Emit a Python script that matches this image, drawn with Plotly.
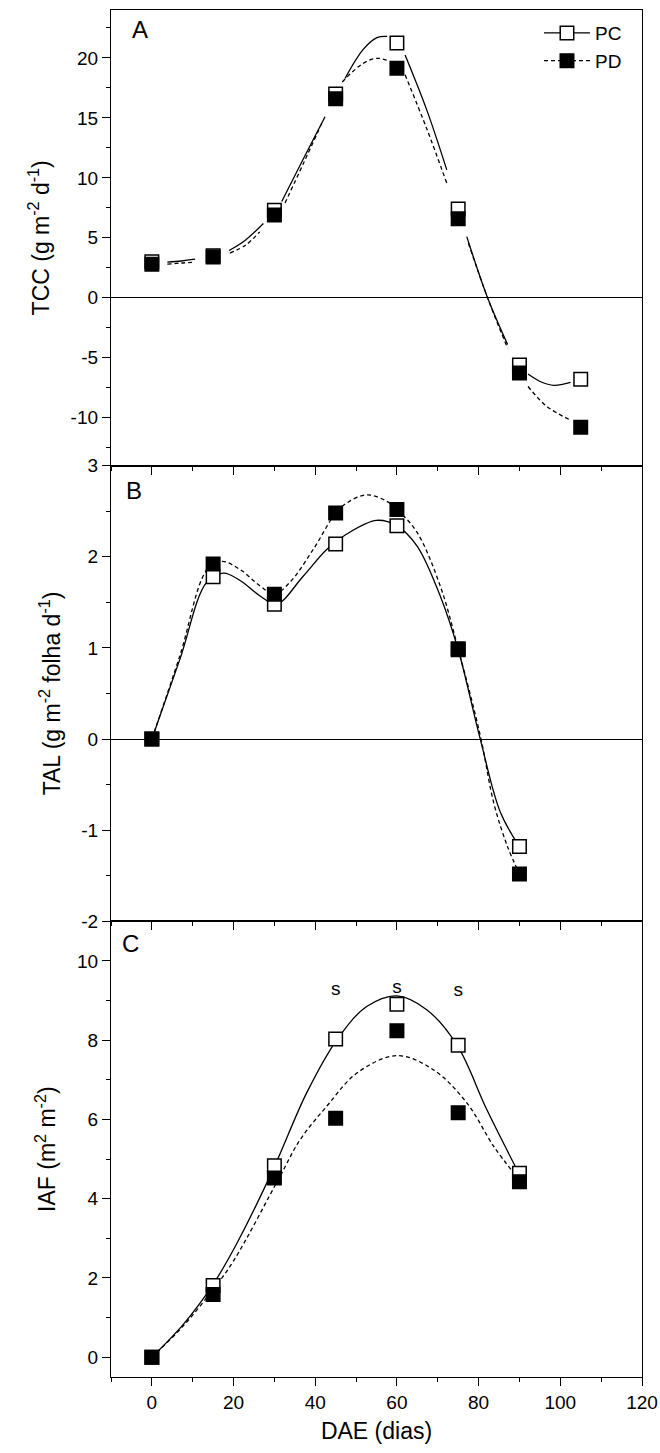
import plotly.graph_objects as go
from plotly.subplots import make_subplots

# ---------------- data ----------------
dae_a = [0, 15, 30, 45, 60, 75, 90, 105]
tcc_pc = [3.0, 3.5, 7.3, 17.0, 21.25, 7.4, -5.6, -6.8]
tcc_pd = [2.8, 3.4, 6.9, 16.6, 19.15, 6.6, -6.27, -10.8]

dae_b = [0, 15, 30, 45, 60, 75, 90]
tal_pc = [0.0, 1.78, 1.48, 2.14, 2.34, 0.98, -1.18]
tal_pd = [0.0, 1.92, 1.59, 2.48, 2.52, 0.99, -1.48]

dae_c = [0, 15, 30, 45, 60, 75, 90]
iaf_pc = [0.0, 1.81, 4.83, 8.03, 8.91, 7.87, 4.64]
iaf_pd = [0.0, 1.58, 4.52, 6.03, 8.24, 6.17, 4.43]

# fitted curves (None = gap near symbols)
tcc_pc_cx = [3.8, 7.2, 10.6, None, 18.9, 22.8, 27.3, None, 31.8, 37.1, 42.4, None,
             47.3, 51.7, 55.1, 57.6, None, 62.0, 67.3, 72.2, None, 77.1, 82.2, 87.1, None,
             92.1, 95.2, 98.4, 102.5]
tcc_pc_cy = [2.97, 3.07, 3.22, None, 3.94, 4.78, 6.2, None, 8.03, 11.6, 15.1, None,
             18.3, 20.7, 21.7, 21.8, None, 20.25, 15.67, 10.67, None, 5.1, 0.0, -3.9, None,
             -6.36, -7.0, -7.3, -7.06]
tcc_pd_cx = [3.8, 7.2, 10.6, None, 19.1, 23.0, 26.4, None, 32.6, 37.1, 41.6, None,
             46.6, 51.7, 55.1, 57.6, None, 62.0, 67.3, 72.2, None, 77.5, 82.3, 87.1, None,
             92.1, 96.7, 102.5]
tcc_pd_cy = [2.8, 2.9, 2.97, None, 3.72, 4.4, 5.5, None, 7.9, 11.2, 14.55, None,
             18.0, 19.55, 19.97, 19.8, None, 18.6, 14.1, 9.56, None, 4.55, -0.1, -4.2, None,
             -7.4, -9.06, -10.2]

tal_pc_cx = [0, 6.9, 13.4, 17.5, 21.6, 26.5, 30.5, 37.1, 42.8, 47.7, 55.0, 60, 64.9, 70.6, 75, 80.4, 85.3, 90]
tal_pc_cy = [0, 0.88, 1.72, 1.82, 1.74, 1.57, 1.48, 1.79, 2.08, 2.25, 2.40, 2.34, 2.12, 1.57, 0.98, 0.0, -0.80, -1.18]
tal_pd_cx = [0, 6.9, 13.4, 17.1, 21.6, 26.5, 30, 33.8, 39.5, 45, 47.7, 52.6, 57.5, 60, 64.9, 70.6, 75, 80.4, 83.7, 87, 90]
tal_pd_cy = [0, 0.92, 1.85, 1.95, 1.86, 1.68, 1.59, 1.72, 2.08, 2.48, 2.59, 2.68, 2.61, 2.52, 2.27, 1.68, 0.99, 0.04, -0.70, -1.17, -1.48]

iaf_pc_cx = [0, 7.7, 15, 20.7, 29.7, 37.9, 45.3, 52.6, 60, 67.3, 74.7, 82, 89.8]
iaf_pc_cy = [0, 0.83, 1.84, 2.85, 4.74, 6.67, 8.01, 8.85, 9.12, 8.77, 7.88, 6.25, 4.65]
iaf_pd_cx = [0, 7.7, 15, 20, 31.4, 36.3, 42.8, 50.2, 60, 69, 77.1, 83.7, 88.6]
iaf_pd_cy = [0, 0.79, 1.71, 2.43, 4.57, 5.49, 6.33, 7.17, 7.61, 7.25, 6.42, 5.32, 4.65]

sig_x = [45, 60, 75]
sig_y = [9.25, 9.31, 9.23]
sig_txt = ["s", "s", "s"]

x_ticks = [0, 20, 40, 60, 80, 100, 120]
tcc_ticks = [-10, -5, 0, 5, 10, 15, 20]
tal_ticks = [-2, -1, 0, 1, 2, 3]
iaf_ticks = [0, 2, 4, 6, 8, 10]

FONT = "Arial, Liberation Sans, sans-serif"
MSIZE = 13.5
LW = 1.3

fig = make_subplots(rows=3, cols=1, shared_xaxes=True, vertical_spacing=0)


def add_panel(row, cx1, cy1, cx2, cy2, mx, y1, y2):
    fig.add_trace(go.Scatter(x=cx1, y=cy1, mode="lines", line=dict(color="black", width=LW, shape="spline"),
                             connectgaps=False, showlegend=False, hoverinfo="skip"), row=row, col=1)
    fig.add_trace(go.Scatter(x=cx2, y=cy2, mode="lines",
                             line=dict(color="black", width=LW, shape="spline", dash="4px,3px"),
                             connectgaps=False, showlegend=False, hoverinfo="skip"), row=row, col=1)
    fig.add_trace(go.Scatter(x=mx, y=y1, mode="markers",
                             marker=dict(symbol="square", size=MSIZE, color="white",
                                         line=dict(color="black", width=1.5)),
                             showlegend=False), row=row, col=1)
    fig.add_trace(go.Scatter(x=mx, y=y2, mode="markers",
                             marker=dict(symbol="square", size=MSIZE, color="black",
                                         line=dict(color="black", width=1.5)),
                             showlegend=False), row=row, col=1)


add_panel(1, tcc_pc_cx, tcc_pc_cy, tcc_pd_cx, tcc_pd_cy, dae_a, tcc_pc, tcc_pd)
add_panel(2, tal_pc_cx, tal_pc_cy, tal_pd_cx, tal_pd_cy, dae_b, tal_pc, tal_pd)
add_panel(3, iaf_pc_cx, iaf_pc_cy, iaf_pd_cx, iaf_pd_cy, dae_c, iaf_pc, iaf_pd)

# legend entries
fig.add_trace(go.Scatter(x=[None], y=[None], mode="lines+markers", name="PC",
                         line=dict(color="black", width=LW),
                         marker=dict(symbol="square", size=MSIZE, color="white",
                                     line=dict(color="black", width=1.5))), row=1, col=1)
fig.add_trace(go.Scatter(x=[None], y=[None], mode="lines+markers", name="PD",
                         line=dict(color="black", width=LW, dash="4px,3px"),
                         marker=dict(symbol="square", size=MSIZE, color="black",
                                     line=dict(color="black", width=1.5))), row=1, col=1)

# significance marks
fig.add_trace(go.Scatter(x=sig_x, y=sig_y, mode="text", text=sig_txt,
                         textfont=dict(family=FONT, size=19, color="black"),
                         showlegend=False, hoverinfo="skip"), row=3, col=1)

axis_common = dict(showline=True, linecolor="black", linewidth=LW, mirror=True,
                   ticks="outside", ticklen=8, tickwidth=LW, tickcolor="black",
                   showgrid=False, automargin=False,
                   tickfont=dict(family=FONT, size=19, color="black"))


def minor(d):
    return dict(ticks="outside", ticklen=4, tickwidth=LW, tickcolor="black", dtick=d, tick0=0, showgrid=False)


def labels(vals):
    return [str(v).replace("\u2212", "-") for v in vals]


for r in (1, 2, 3):
    fig.update_xaxes(range=[-10, 120], tickmode="array", tickvals=x_ticks, ticktext=labels(x_ticks),
                     minor=minor(10), zeroline=False, **axis_common, row=r, col=1)

fig.update_xaxes(title=dict(text="DAE (dias)", font=dict(family=FONT, size=23, color="black"), standoff=10),
                 row=3, col=1)

ytitle_font = dict(family=FONT, size=23, color="black")
fig.update_yaxes(range=[-14, 24], tickmode="array", tickvals=tcc_ticks, ticktext=labels(tcc_ticks),
                 minor=minor(2.5),
                 zeroline=True, zerolinecolor="black", zerolinewidth=LW,
                 title=dict(text="TCC (g m<sup>-2</sup> d<sup>-1</sup>)", font=ytitle_font, standoff=14),
                 **axis_common, row=1, col=1)
fig.update_yaxes(range=[-2, 3], tickmode="array", tickvals=tal_ticks, ticktext=labels(tal_ticks),
                 minor=minor(0.5),
                 zeroline=True, zerolinecolor="black", zerolinewidth=LW,
                 title=dict(text="TAL (g m<sup>-2</sup> folha d<sup>-1</sup>)", font=ytitle_font, standoff=14),
                 **axis_common, row=2, col=1)
fig.update_yaxes(range=[-0.5, 11], tickmode="array", tickvals=iaf_ticks, ticktext=labels(iaf_ticks),
                 minor=minor(1),
                 zeroline=False,
                 title=dict(text="IAF (m<sup>2</sup> m<sup>-2</sup>)", font=ytitle_font, standoff=14),
                 **axis_common, row=3, col=1)

# panel letters
fig.add_annotation(x=-2.9, y=22.4, xref="x", yref="y", text="A", showarrow=False,
                   font=dict(family=FONT, size=24, color="black"))
fig.add_annotation(x=-4.3, y=2.73, xref="x2", yref="y2", text="B", showarrow=False,
                   font=dict(family=FONT, size=24, color="black"))
fig.add_annotation(x=-5.2, y=10.45, xref="x3", yref="y3", text="C", showarrow=False,
                   font=dict(family=FONT, size=24, color="black"))

fig.update_layout(
    width=660, height=1453,
    margin=dict(l=111, r=18, t=10, b=76, autoexpand=False),
    paper_bgcolor="white", plot_bgcolor="white",
    font=dict(family=FONT, color="black"),
    showlegend=True,
    legend=dict(x=0.806, y=0.997, xanchor="left", yanchor="top", bgcolor="rgba(0,0,0,0)",
                font=dict(family=FONT, size=19, color="black"), itemwidth=46,
                tracegroupgap=0),
)

fig.write_html("out.html")
